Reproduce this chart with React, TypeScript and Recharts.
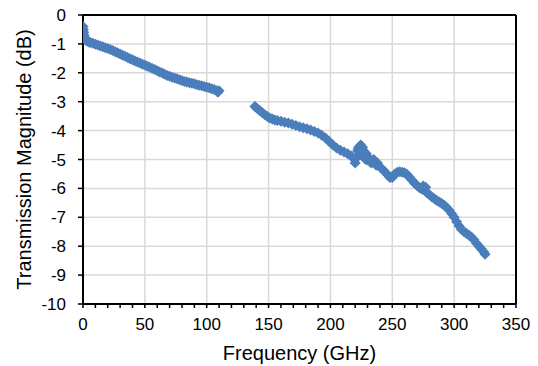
import React from 'react';
import { ScatterChart, Scatter, XAxis, YAxis, CartesianGrid, ReferenceLine, Label } from 'recharts';

// Segment 1 (low band)
const FREQ_LOW = [0, 0.3, 0.6, 0.9, 1.3, 1.8, 2.5, 3.5, 5, 6, 8, 10, 12, 14, 16, 18, 20, 22, 24, 26, 28, 30, 32, 34, 36, 38, 40, 42, 44, 46, 48, 50, 52, 54, 56, 58, 60, 62, 64, 66, 68, 70, 72, 74, 76, 78, 80, 82, 84, 86, 88, 90, 92, 94, 96, 98, 100, 102, 104, 106, 108, 109, 110];
const MAG_LOW = [-0.4, -0.5, -0.6, -0.7, -0.78, -0.84, -0.88, -0.91, -0.94, -0.95, -0.98, -1.01, -1.04, -1.07, -1.1, -1.13, -1.16, -1.19, -1.23, -1.27, -1.31, -1.35, -1.39, -1.43, -1.47, -1.51, -1.55, -1.59, -1.63, -1.66, -1.7, -1.73, -1.77, -1.81, -1.85, -1.89, -1.93, -1.97, -2.01, -2.05, -2.09, -2.12, -2.15, -2.18, -2.21, -2.24, -2.27, -2.3, -2.32, -2.34, -2.36, -2.38, -2.41, -2.43, -2.45, -2.47, -2.5, -2.52, -2.55, -2.58, -2.62, -2.67, -2.62];

// Segment 2 (high band)
const FREQ_HIGH = [139, 141, 143, 145, 147, 149, 151, 153, 155, 157, 160, 163, 166, 169, 172, 175, 178, 181, 184, 187, 190, 193, 196, 199, 202, 205, 208, 211, 214, 217, 219, 220, 221, 222, 222.5, 223, 223.5, 224, 224.5, 225, 225.5, 226, 226.5, 227, 227.5, 228, 228.5, 229, 229.5, 230, 231, 232, 233, 234, 235, 236, 237, 238, 240, 242, 244, 246, 248, 250, 252, 254, 256, 258, 260, 262, 264, 266, 268, 270, 272, 274, 275, 276, 277, 278, 280, 282, 284, 286, 288, 290, 292, 294, 296, 298, 300, 302, 304, 306, 308, 310, 312, 314, 316, 318, 320, 322, 324, 325];
const MAG_HIGH = [-3.17, -3.24, -3.31, -3.38, -3.45, -3.51, -3.56, -3.6, -3.63, -3.65, -3.68, -3.71, -3.74, -3.78, -3.82, -3.87, -3.9, -3.94, -3.98, -4.03, -4.08, -4.16, -4.26, -4.38, -4.5, -4.6, -4.68, -4.74, -4.8, -4.88, -4.98, -5.12, -4.95, -4.7, -4.62, -4.57, -4.75, -4.6, -4.5, -4.72, -4.85, -4.58, -4.68, -4.82, -4.9, -4.95, -5.0, -4.8, -4.88, -5.02, -4.96, -5.06, -5.12, -5.04, -5.0, -5.14, -5.2, -5.12, -5.26, -5.34, -5.42, -5.52, -5.62, -5.62, -5.5, -5.44, -5.42, -5.44, -5.46, -5.52, -5.62, -5.72, -5.82, -5.9, -5.98, -6.03, -5.92, -6.06, -5.96, -6.15, -6.22, -6.3, -6.36, -6.42, -6.47, -6.52, -6.58, -6.66, -6.76, -6.88, -7.0, -7.15, -7.3, -7.42, -7.5, -7.56, -7.62, -7.68, -7.78, -7.9, -8.0, -8.1, -8.2, -8.28];

const X_MAJOR = [0, 50, 100, 150, 200, 250, 300, 350];
const X_MINOR = [0, 10, 20, 30, 40, 50, 60, 70, 80, 90, 100, 110, 120, 130, 140, 150, 160, 170, 180, 190, 200, 210, 220, 230, 240, 250, 260, 270, 280, 290, 300, 310, 320, 330, 340, 350];
const Y_TICKS = [-10, -9, -8, -7, -6, -5, -4, -3, -2, -1, 0];
const X_MAX = 350;

const lowData = FREQ_LOW.map((f, i) => ({ f, m: MAG_LOW[i] }));
const highData = FREQ_HIGH.map((f, i) => ({ f, m: MAG_HIGH[i] }));

const BLUE = '#4A7EBB';
const FONT = '"Liberation Sans", Arial, sans-serif';

const Diamond = (props: any) => {
  const { cx, cy } = props;
  const r = 5.5;
  return <polygon points={`${cx},${cy - r} ${cx + r},${cy} ${cx},${cy + r} ${cx - r},${cy}`} fill={BLUE} />;
};

const gridX = ({ xAxis, offset }: any) => {
  const sc = xAxis && xAxis.scale;
  return X_MAJOR.map((t) => {
    if (typeof sc === 'function') return sc(t);
    if (sc && typeof sc.map === 'function') return sc.map(t);
    return offset.left + (offset.width * t) / X_MAX;
  });
};

export default function App() {
  return (
    <div style={{ position: 'absolute', left: 0, top: 0, width: 538, height: 366, background: '#fff' }}>
      <ScatterChart width={538} height={366} margin={{ top: 15, right: 22, bottom: 0, left: 0 }}>
        <CartesianGrid stroke="#d9d9d9" strokeWidth={1.5} verticalCoordinatesGenerator={gridX} />
        <XAxis
          type="number"
          dataKey="f"
          domain={[0, X_MAX]}
          allowDataOverflow
          ticks={X_MINOR}
          interval={0}
          tickFormatter={(v: number) => (v % 50 === 0 ? String(v) : '')}
          tick={{ fontSize: 17, fontFamily: FONT, fill: '#000' }}
          tickSize={4}
          tickMargin={10}
          axisLine={{ stroke: '#000', strokeWidth: 2 }}
          tickLine={{ stroke: '#000', strokeWidth: 1.5 }}
          height={62}
        >
          <Label value="Frequency (GHz)" position="insideBottom" offset={6} style={{ fontSize: 20, fontFamily: FONT, fill: '#000' }} />
        </XAxis>
        <YAxis
          type="number"
          dataKey="m"
          domain={[-10, 0]}
          allowDataOverflow
          ticks={Y_TICKS}
          interval={0}
          width={83}
          tickSize={5}
          tickMargin={12}
          tick={{ fontSize: 17, fontFamily: FONT, fill: '#000' }}
          axisLine={{ stroke: '#000', strokeWidth: 2 }}
          tickLine={{ stroke: '#000', strokeWidth: 1.5 }}
        >
          <Label
            value="Transmission Magnitude (dB)"
            angle={-90}
            position="insideLeft"
            offset={24}
            style={{ textAnchor: 'middle', fontSize: 20, fontFamily: FONT, fill: '#000' }}
          />
        </YAxis>
        <ReferenceLine y={0} stroke="#000" strokeWidth={2} />
        <ReferenceLine x={X_MAX} stroke="#000" strokeWidth={2} />
        <Scatter data={lowData} fill={BLUE} shape={<Diamond />} isAnimationActive={false} />
        <Scatter data={highData} fill={BLUE} shape={<Diamond />} isAnimationActive={false} />
      </ScatterChart>
    </div>
  );
}
